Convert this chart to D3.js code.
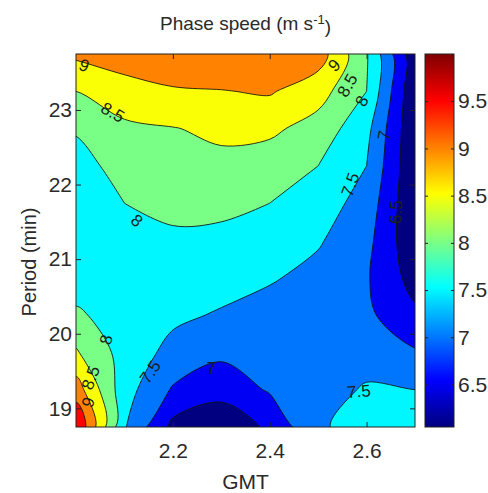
<!DOCTYPE html>
<html>
<head>
<meta charset="utf-8">
<script src="https://cdn.jsdelivr.net/npm/d3@7"></script>
<style>
  body { margin: 0; background: #fff; }
  text { font-family: "Liberation Sans", Arial, sans-serif; fill: #2a2a2a; }
</style>
</head>
<body>
<svg id="chart" width="488" height="493"></svg>
<script>
// grid columns (GMT, hours) and rows (period, min)
const gmt = [2.0, 2.1, 2.2, 2.3, 2.4, 2.5, 2.6, 2.7];
const period = [18.75, 19.25, 19.75, 20.25, 20.75, 21.25, 21.75, 22.25, 22.75, 23.25, 23.75];

// phase speed (m/s), one row per period, lowest period first
const speed = [
  [10.0, 7.55, 6.35, 6.10, 6.60, 7.45, 7.65, 7.70],
  [9.25, 7.70, 6.95, 6.70, 7.05, 7.30, 7.55, 7.50],
  [8.55, 7.80, 7.35, 7.10, 7.20, 7.15, 7.30, 7.05],
  [8.08, 7.75, 7.60, 7.45, 7.30, 7.20, 7.10, 6.60],
  [7.75, 7.70, 7.75, 7.70, 7.55, 7.35, 7.05, 6.30],
  [7.70, 7.75, 7.90, 7.90, 7.75, 7.55, 7.15, 6.10],
  [7.75, 8.00, 8.15, 8.10, 8.00, 7.75, 7.30, 6.05],
  [7.80, 8.20, 8.30, 8.38, 8.25, 8.00, 7.50, 6.05],
  [8.05, 8.40, 8.48, 8.60, 8.60, 8.30, 7.65, 6.05],
  [8.50, 8.80, 8.95, 8.98, 9.05, 8.70, 8.00, 6.05],
  [9.10, 9.25, 9.35, 9.45, 9.45, 9.25, 8.05, 6.10]
];

const levels = [6.5, 7, 7.5, 8, 8.5, 9, 9.5];
const xTicks = [2.2, 2.4, 2.6];
const yTicks = [19, 20, 21, 22, 23];
const colorTicks = [6.5, 7, 7.5, 8, 8.5, 9, 9.5];

// inline contour labels
const labelText = ["9", "8.5", "8", "9", "8.5", "8", "7.5", "7", "6.5", "8", "8.5", "9", "7.5", "7", "7.5"];
const labelGmt = [2.017, 2.076, 2.126, 2.533, 2.560, 2.590, 2.566, 2.636, 2.660, 2.062, 2.030, 2.025, 2.153, 2.279, 2.584];
const labelPeriod = [23.60, 22.97, 21.52, 23.60, 23.33, 23.12, 22.00, 22.66, 21.63, 19.92, 19.41, 19.08, 19.49, 19.54, 19.23];
const labelAngle = [20, 30, 40, -45, -60, -62, -70, -78, -88, -75, -70, -70, -55, 0, -5];

const svg = d3.select("#chart");
const plot = { left: 76, top: 54, right: 415, bottom: 427 };
const bar = { left: 425, right: 454 };

const x = d3.scaleLinear().domain([gmt[0], gmt[gmt.length - 1]]).range([plot.left, plot.right]);
const y = d3.scaleLinear().domain([period[0], period[period.length - 1]]).range([plot.bottom, plot.top]);

const flat = speed.flat();
const [cmin, cmax] = d3.extent(flat);

// matlab jet colormap
const clamp = v => Math.max(0, Math.min(1, v));
function jet(t) {
  const r = clamp(Math.min(4 * t - 1.5, -4 * t + 4.5));
  const g = clamp(Math.min(4 * t - 0.5, -4 * t + 3.5));
  const b = clamp(Math.min(4 * t + 0.5, -4 * t + 2.5));
  return d3.rgb(r * 255, g * 255, b * 255).formatHex();
}
const colorOf = v => jet((v - cmin) / (cmax - cmin));

const defs = svg.append("defs");
defs.append("clipPath").attr("id", "clip")
  .append("rect")
  .attr("x", plot.left).attr("y", plot.top)
  .attr("width", plot.right - plot.left).attr("height", plot.bottom - plot.top);

// contours
const nx = gmt.length, ny = period.length;
const gStep = gmt[1] - gmt[0], pStep = period[1] - period[0];
const contours = d3.contours().size([nx, ny]).thresholds(levels)(flat);

const smooth = d3.line().curve(d3.curveCatmullRomClosed.alpha(0.5));
const ringPath = ring => smooth(ring.slice(0, -1).map(([gx, gy]) => [
  x(gmt[0] + (gx - 0.5) * gStep),
  y(period[0] + (gy - 0.5) * pStep)
]));
const contourPath = c => c.coordinates.map(poly => poly.map(ringPath).join("")).join("");

const body = svg.append("g").attr("clip-path", "url(#clip)");
body.append("rect")
  .attr("x", plot.left).attr("y", plot.top)
  .attr("width", plot.right - plot.left).attr("height", plot.bottom - plot.top)
  .attr("fill", colorOf(cmin));

body.append("g").selectAll("path")
  .data(contours)
  .join("path")
  .attr("d", contourPath)
  .attr("fill-rule", "evenodd")
  .attr("fill", d => colorOf(d.value));

body.append("g").selectAll("path")
  .data(contours)
  .join("path")
  .attr("d", contourPath)
  .attr("fill", "none")
  .attr("stroke", "#111")
  .attr("stroke-opacity", 0.85)
  .attr("stroke-width", 1);

body.append("g").selectAll("text")
  .data(labelText)
  .join("text")
  .attr("transform", (d, i) => `translate(${x(labelGmt[i])},${y(labelPeriod[i])}) rotate(${labelAngle[i]})`)
  .attr("text-anchor", "middle")
  .attr("dy", "0.35em")
  .style("font-size", "17px")
  .style("fill", "#1a1f1a")
  .text(d => d);

// axes box
svg.append("rect")
  .attr("x", plot.left).attr("y", plot.top)
  .attr("width", plot.right - plot.left).attr("height", plot.bottom - plot.top)
  .attr("fill", "none").attr("stroke", "#222").attr("stroke-width", 1);

const styleAxis = (g, size) => {
  g.select(".domain").remove();
  g.selectAll("line").attr("stroke", "#222");
  g.selectAll("text").style("font-size", size).style("fill", "#2a2a2a");
};

svg.append("g")
  .attr("transform", `translate(0,${plot.bottom})`)
  .call(d3.axisBottom(x).tickValues(xTicks).tickFormat(d3.format(".1f")).tickSizeInner(-5).tickSizeOuter(0).tickPadding(16))
  .call(g => styleAxis(g, "21px"));
svg.append("g")
  .attr("transform", `translate(0,${plot.top})`)
  .call(d3.axisTop(x).tickValues(xTicks).tickFormat("").tickSizeInner(-5).tickSizeOuter(0))
  .call(g => styleAxis(g, "21px"));
svg.append("g")
  .attr("transform", `translate(${plot.left},0)`)
  .call(d3.axisLeft(y).tickValues(yTicks).tickFormat(d3.format("d")).tickSizeInner(-5).tickSizeOuter(0).tickPadding(4))
  .call(g => styleAxis(g, "21px"));
svg.append("g")
  .attr("transform", `translate(${plot.right},0)`)
  .call(d3.axisRight(y).tickValues(yTicks).tickFormat("").tickSizeInner(-5).tickSizeOuter(0))
  .call(g => styleAxis(g, "21px"));

// colorbar
const cy = d3.scaleLinear().domain([cmin, cmax]).range([plot.bottom, plot.top]);
const grad = defs.append("linearGradient").attr("id", "jet")
  .attr("x1", 0).attr("y1", 1).attr("x2", 0).attr("y2", 0);
grad.selectAll("stop")
  .data(d3.range(0, 1.0001, 1 / 32))
  .join("stop")
  .attr("offset", d => d)
  .attr("stop-color", d => jet(d));

svg.append("rect")
  .attr("x", bar.left).attr("y", plot.top)
  .attr("width", bar.right - bar.left).attr("height", plot.bottom - plot.top)
  .attr("fill", "url(#jet)")
  .attr("stroke", "#222").attr("stroke-width", 1);

svg.append("g")
  .attr("transform", `translate(${bar.right},0)`)
  .call(d3.axisRight(cy).tickValues(colorTicks).tickFormat(d3.format("~g")).tickSizeInner(-3).tickSizeOuter(0).tickPadding(4))
  .call(g => styleAxis(g, "21px"));
svg.append("g")
  .attr("transform", `translate(${bar.left},0)`)
  .call(d3.axisLeft(cy).tickValues(colorTicks).tickFormat("").tickSizeInner(-3).tickSizeOuter(0))
  .call(g => styleAxis(g, "21px"));

// titles
const title = svg.append("text")
  .attr("x", (plot.left + plot.right) / 2).attr("y", 30)
  .attr("text-anchor", "middle")
  .style("font-size", "19px");
title.append("tspan").text("Phase speed (m s");
title.append("tspan").attr("dy", "-0.45em").style("font-size", "13px").text("-1");
title.append("tspan").attr("dy", "0.45em").text(")");

svg.append("text")
  .attr("x", (plot.left + plot.right) / 2).attr("y", 489)
  .attr("text-anchor", "middle")
  .style("font-size", "21px")
  .text("GMT");

svg.append("text")
  .attr("transform", `translate(36,262) rotate(-90)`)
  .attr("text-anchor", "middle")
  .style("font-size", "20px")
  .text("Period (min)");
</script>
</body>
</html>
